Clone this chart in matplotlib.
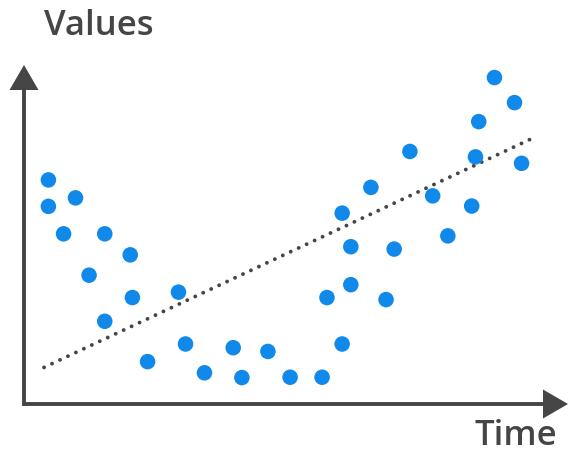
import matplotlib
matplotlib.use("Agg")
import matplotlib.pyplot as plt
from matplotlib.patches import Polygon
from matplotlib.lines import Line2D

# ---- data (time, value) ----
time = [4.5, 4.5, 9.5, 7.3, 14.9, 19.6, 12.0, 20.0, 28.5, 14.9,
        22.8, 29.8, 33.3, 38.6, 40.2, 45.0, 49.1, 55.0, 58.7, 55.9,
        60.3, 66.8, 60.3, 68.3, 58.7, 64.0, 71.2, 75.4, 78.2, 82.6,
        83.3, 83.9, 86.8, 90.5, 91.8]
values = [66.1, 58.3, 60.8, 50.2, 50.2, 44.0, 38.0, 31.4, 33.0, 24.4,
          12.5, 17.7, 9.2, 16.6, 7.8, 15.5, 7.9, 7.9, 17.7, 31.4,
          35.2, 30.8, 46.4, 45.7, 56.3, 63.9, 74.5, 61.4, 49.6, 58.4,
          72.9, 83.3, 96.3, 88.9, 71.0]
trend_time = [3.7, 94.1]
trend_values = [10.8, 78.6]
x_label = "Time"
y_label = "Values"

W, H = 572, 452
DOT = "#1089EA"
AX = "#454545"

fig = plt.figure(figsize=(W / 100, H / 100), dpi=100)
fig.patch.set_facecolor("white")

# axes: origin at pixel (24,405), top at 66, right at 566
left, right, top, bottom = 24, 566, 66, 405
ax = fig.add_axes([left / W, 1 - bottom / H, (right - left) / W, (bottom - top) / H])
ax.set_xlim(0, 100)
ax.set_ylim(0, 100)
ax.axis("off")

ax.plot(trend_time, trend_values, color=AX, lw=2.8,
        linestyle=(0, (0.01, 2.25)), dash_capstyle="round", zorder=2)
ax.scatter(time, values, s=125, color=DOT, edgecolors="none", zorder=3)


def fp(x, y):
    return (x / W, 1 - y / H)


# axis lines
fig.add_artist(Line2D([left / W, left / W], [fp(0, bottom + 2)[1], fp(0, 85)[1]],
                      transform=fig.transFigure, color=AX, lw=2.8, solid_capstyle="butt"))
fig.add_artist(Line2D([(left - 1.5) / W, 550 / W], [fp(0, bottom)[1], fp(0, bottom)[1]],
                      transform=fig.transFigure, color=AX, lw=2.8, solid_capstyle="butt"))
# arrow heads
fig.add_artist(Polygon([fp(left, top), fp(left - 14.5, top + 25), fp(left + 14.5, top + 25)],
                       closed=True, transform=fig.transFigure, color=AX, lw=0))
fig.add_artist(Polygon([fp(right + 2, bottom), fp(right - 23, bottom - 14.5), fp(right - 23, bottom + 14.5)],
                       closed=True, transform=fig.transFigure, color=AX, lw=0))

fig.text(*fp(99, 35), y_label, ha="center", va="baseline", fontsize=25,
         family=["Open Sans", "DejaVu Sans"], weight="semibold", color=AX)
fig.text(*fp(516, 445), x_label, ha="center", va="baseline", fontsize=25,
         family=["Open Sans", "DejaVu Sans"], weight="semibold", color=AX)

fig.savefig("out.png", dpi=100)
